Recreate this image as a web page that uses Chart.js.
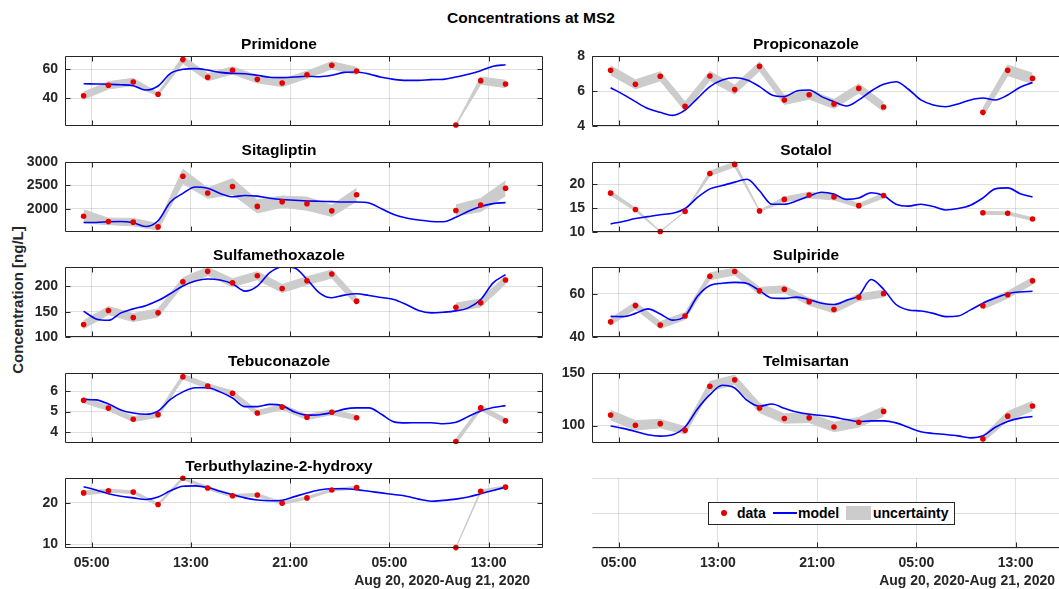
<!DOCTYPE html>
<html lang="en">
<head>
  <meta charset="UTF-8">
  <title>Concentrations at MS2</title>
  <script src="https://cdn.jsdelivr.net/npm/chart.js"></script>
  <style>
    html, body {
      margin: 0;
      padding: 0;
      background: #fff;
    }
    body {
      position: relative;
      width: 1059px;
      height: 589px;
      overflow: hidden;
      font-family: 'Liberation Sans', Arial, sans-serif;
      color: #262626;
    }
    canvas { position: absolute; }
    .txt { position: absolute; font-weight: bold; white-space: nowrap; }
    #title { left: 331px; top: 8px; width: 400px; text-align: center; font-size: 15.5px; line-height: 20px; color: #000; }
    #ylabel { left: 17px; top: 300px; font-size: 15px; color: #262626; transform: translate(-50%, -50%) rotate(-90deg); }
    .datelbl { width: 220px; text-align: right; top: 572px; font-size: 14px; line-height: 16px; }
    #legend {
      position: absolute; left: 708px; top: 502px; width: 245px; height: 21px;
      border: 1px solid #262626; background: #fff; font-size: 14px; font-weight: bold; color: #000;
    }
    #legend span { position: absolute; line-height: 21px; top: 0; }
  </style>
</head>
<body>
  <div id="title" class="txt">Concentrations at MS2</div>
  <div id="ylabel" class="txt">Concentration [ng/L]</div>

  <script>
    // sample times in hours after Aug 20, 2020 00:00
    const dataHours = [4.36, 6.36, 8.36, 10.36, 12.36, 14.36, 16.36, 18.36, 20.36, 22.36, 24.36, 26.36, 34.36, 36.36, 38.36];
    const modelHours = [4.36, 5.36, 6.36, 7.36, 8.36, 9.36, 10.36, 11.36, 12.36, 13.36, 14.36, 15.36, 16.36, 17.36, 18.36,
      19.36, 20.36, 21.36, 22.36, 23.36, 24.36, 25.36, 26.36, 27.36, 28.36, 29.36, 30.36, 31.36, 32.36, 33.36,
      34.36, 35.36, 36.36, 37.36, 38.36];
    const hourTicks = [5, 13, 21, 29, 37];

    const primidoneData = [41.8, 49.0, 51.3, 42.8, 66.7, 54.5, 59.3, 53.1, 50.6, 56.3, 62.8, 58.9, 21.6, 52.2, 49.9];
    const primidoneUnc = [2.5, 2.5, 2.5, 1.0, 2.5, 2.5, 2.5, 2.5, 2.5, 2.5, 2.5, 2.5, 0.4, 2.5, 2.5];
    const primidoneModel = [50.1, 49.9, 49.7, 49.4, 48.7, 45.7, 48.5, 57.2, 60.0, 60.5, 59.5, 57.9, 57.2, 57.0, 55.9, 54.5, 54.3, 54.7,
      55.2, 54.9, 55.9, 57.9, 58.2, 56.8, 54.5, 53.1, 52.4, 52.4, 52.9, 53.1, 54.7, 56.6, 59.1, 62.1, 63.2];

    const propiconazoleData = [7.18, 6.38, 6.84, 5.12, 6.86, 6.08, 7.41, 5.49, 5.79, 5.26, 6.15, 5.09, 4.78, 7.18, 6.72];
    const propiconazoleUnc = [0.26, 0.26, 0.26, 0.26, 0.26, 0.26, 0.26, 0.26, 0.26, 0.26, 0.26, 0.26, 0.24, 0.3, 0.3];
    const propiconazoleModel = [6.19, 5.81, 5.39, 5.0, 4.78, 4.61, 4.91, 5.58, 6.25, 6.63, 6.76, 6.63, 6.25, 5.77, 5.68, 6.0, 6.06, 5.68,
      5.39, 5.14, 5.49, 6.0, 6.38, 6.53, 6.1, 5.49, 5.2, 5.1, 5.26, 5.49, 5.6, 5.49, 5.77, 6.21, 6.48];

    const sitagliptinData = [1839, 1730, 1715, 1613, 2694, 2336, 2475, 2051, 2153, 2110, 1956, 2299, 1963, 2080, 2438];
    const sitagliptinUnc = [140, 70, 80, 70, 150, 110, 170, 140, 120, 140, 120, 140, 120, 140, 160];
    const sitagliptinModel = [1708, 1708, 1723, 1730, 1701, 1620, 1745, 2146, 2329, 2467, 2438, 2329, 2256, 2285, 2270, 2226, 2197, 2183,
      2168, 2161, 2153, 2146, 2146, 2124, 2000, 1876, 1803, 1759, 1730, 1723, 1818, 1949, 2051, 2110, 2131];

    const sotalolData = [18.1, 14.7, 10.1, 14.3, 22.2, 24.1, 14.4, 16.8, 17.7, 17.3, 15.5, 17.6, 14.0, 13.9, 12.7];
    const sotalolUnc = [0.45, 0.3, 0.05, 0.05, 0.5, 0.5, 0.1, 0.5, 0.6, 0.6, 0.4, 0.5, 0.3, 0.3, 0.3];
    const sotalolModel = [11.7, 12.2, 12.8, 13.2, 13.6, 13.9, 14.9, 17.2, 19.0, 19.7, 20.4, 21.0, 18.6, 15.8, 15.8, 16.5, 17.5, 18.3,
      17.9, 16.8, 17.1, 18.2, 17.6, 15.8, 15.4, 15.8, 15.3, 14.6, 14.9, 15.6, 17.1, 19.0, 19.2, 18.0, 17.3];

    const sulfamethoxazoleData = [124.5, 152.3, 138.4, 147.7, 209.3, 229.8, 207.3, 221.2, 196.0, 211.3, 224.5, 170.9, 158.9, 167.5, 212.6];
    const sulfamethoxazoleUnc = [8, 8, 8, 8, 8, 8, 8, 8, 8, 8, 8, 8, 8, 8, 8];
    const sulfamethoxazoleModel = [151.0, 135.8, 133.0, 147.7, 155.6, 162.0, 172.0, 186.0, 200.7, 210.6, 214.6, 212.6, 205.3, 190.7, 200.7,
      227.2, 238.4, 236.4, 214.0, 187.4, 177.5, 182.8, 185.4, 182.1, 178.1, 174.2, 164.2, 152.3, 147.7, 149.0, 151.7, 157.6, 174.2, 207.0, 223.2];

    const sulpirideData = [47.0, 54.5, 45.5, 49.7, 68.0, 70.2, 61.3, 62.0, 56.3, 52.7, 58.3, 60.0, 54.4, 59.5, 65.9];
    const sulpirideUnc = [1.6, 1.6, 1.6, 1.6, 1.6, 1.6, 1.6, 1.6, 1.6, 1.6, 1.6, 1.6, 1.6, 1.6, 1.6];
    const sulpirideModel = [49.5, 49.4, 50.9, 53.0, 50.6, 47.8, 49.7, 58.8, 63.8, 64.8, 65.2, 64.7, 61.4, 58.0, 57.8, 58.4, 57.2, 55.6,
      55.0, 56.9, 59.1, 66.5, 62.0, 55.0, 52.5, 52.0, 50.9, 49.4, 49.7, 52.5, 55.6, 58.0, 60.0, 60.8, 61.1];

    const tebuconazoleData = [5.55, 5.17, 4.63, 4.85, 6.70, 6.24, 5.89, 4.93, 5.22, 4.73, 4.97, 4.70, 3.54, 5.18, 4.55];
    const tebuconazoleUnc = [0.12, 0.12, 0.12, 0.12, 0.12, 0.12, 0.12, 0.12, 0.12, 0.12, 0.12, 0.12, 0.12, 0.12, 0.12];
    const tebuconazoleModel = [5.59, 5.57, 5.37, 5.08, 4.93, 4.87, 5.03, 5.59, 5.96, 6.16, 6.16, 5.96, 5.66, 5.24, 5.24, 5.35, 5.29, 4.98,
      4.83, 4.85, 4.95, 5.12, 5.18, 5.18, 4.87, 4.50, 4.45, 4.46, 4.46, 4.41, 4.48, 4.76, 5.03, 5.20, 5.29];

    const telmisartanData = [110.0, 100.3, 101.9, 95.5, 137.4, 143.5, 116.8, 106.8, 107.4, 98.7, 103.2, 113.5, 87.4, 109.0, 118.7];
    const telmisartanUnc = [4.5, 4.5, 4, 3.5, 4.5, 4.5, 4.5, 4.5, 4.5, 4.5, 4.5, 4.5, 3, 4.5, 4.5];
    const telmisartanModel = [99.7, 97.4, 94.5, 91.3, 90.0, 91.3, 98.7, 115.8, 129.4, 138.4, 135.8, 123.9, 118.4, 120.6, 116.5, 113.0, 110.8, 109.7,
      108.1, 105.8, 103.9, 104.5, 104.5, 102.6, 98.4, 94.2, 92.6, 91.6, 90.3, 88.4, 90.3, 98.4, 103.9, 107.1, 108.7];

    const terbuthylazineData = [22.4, 22.9, 22.6, 19.6, 25.95, 23.6, 21.7, 21.9, 19.9, 21.2, 23.1, 23.7, 9.2, 22.8, 23.8];
    const terbuthylazineUnc = [0.5, 0.35, 0.35, 0.3, 0.3, 0.35, 0.35, 0.35, 0.3, 0.3, 0.3, 0.3, 0.05, 0.3, 0.3];
    const terbuthylazineModel = [23.9, 23.1, 22.2, 21.6, 21.2, 20.8, 21.4, 22.9, 24.0, 24.1, 23.7, 22.8, 22.0, 21.2, 20.7, 20.5, 20.6, 21.5,
      22.4, 23.1, 23.4, 23.4, 23.2, 22.8, 22.4, 22.0, 21.6, 20.9, 20.4, 20.6, 20.9, 21.4, 22.2, 23.0, 23.8];

    const panels = [
      { name: 'Primidone', row: 0, col: 0, data: primidoneData, unc: primidoneUnc, model: primidoneModel, yMin: 20.9, yMax: 69.2, yTicks: [40, 60] },
      { name: 'Propiconazole', row: 0, col: 1, data: propiconazoleData, unc: propiconazoleUnc, model: propiconazoleModel, yMin: 4, yMax: 8, yTicks: [4, 6, 8] },
      { name: 'Sitagliptin', row: 1, col: 0, data: sitagliptinData, unc: sitagliptinUnc, model: sitagliptinModel, yMin: 1504, yMax: 3000, yTicks: [2000, 2500, 3000] },
      { name: 'Sotalol', row: 1, col: 1, data: sotalolData, unc: sotalolUnc, model: sotalolModel, yMin: 10, yMax: 24.6, yTicks: [10, 15, 20] },
      { name: 'Sulfamethoxazole', row: 2, col: 0, data: sulfamethoxazoleData, unc: sulfamethoxazoleUnc, model: sulfamethoxazoleModel, yMin: 100, yMax: 238.4, yTicks: [100, 150, 200] },
      { name: 'Sulpiride', row: 2, col: 1, data: sulpirideData, unc: sulpirideUnc, model: sulpirideModel, yMin: 40, yMax: 72.3, yTicks: [40, 60] },
      { name: 'Tebuconazole', row: 3, col: 0, data: tebuconazoleData, unc: tebuconazoleUnc, model: tebuconazoleModel, yMin: 3.47, yMax: 6.88, yTicks: [4, 5, 6] },
      { name: 'Telmisartan', row: 3, col: 1, data: telmisartanData, unc: telmisartanUnc, model: telmisartanModel, yMin: 83.5, yMax: 150, yTicks: [100, 150] },
      { name: 'Terbuthylazine-2-hydroxy', row: 4, col: 0, data: terbuthylazineData, unc: terbuthylazineUnc, model: terbuthylazineModel, yMin: 9.1, yMax: 26.0, yTicks: [10, 20] },
      { name: '', row: 4, col: 1, yMin: 0, yMax: 1, yTicks: [0, 0.5, 1], empty: true }
    ];

    Chart.defaults.font.family = "'Liberation Sans', Arial, sans-serif";
    Chart.defaults.color = '#262626';

    const xMin = 2.86, xMax = 41.38;
    const rowTops = [56, 162, 267, 373, 478];
    const plotH = 70, yAxisW = 50, titleH = 24;
    const gridColor = 'rgba(38,38,38,0.15)';
    const tickFont = { size: 14, weight: 'bold' };

    function hourLabel(v) {
      const h = Math.round(((v % 24) + 24) % 24);
      return String(h).padStart(2, '0') + ':00';
    }

    function pts(xs, ys) {
      return xs.map((x, i) => ({ x: x, y: ys[i] }));
    }

    // value +/- uncertainty, broken where the sampling has a hole
    function bandPts(xs, ys, us, sign) {
      const out = [];
      xs.forEach((x, i) => {
        if (i > 0 && x - xs[i - 1] > 3) out.push({ x: (x + xs[i - 1]) / 2, y: null });
        out.push({ x: x, y: ys[i] + sign * us[i] });
      });
      return out;
    }

    function boxPlugin(full) {
      return {
        id: 'box',
        afterDraw(chart) {
          const ctx = chart.ctx, a = chart.chartArea;
          const xs = chart.scales.x, ys = chart.scales.y;
          const l = Math.round(a.left) + 0.5, r = Math.round(a.right) - 0.5;
          const t = Math.round(a.top) + 0.5, b = Math.round(a.bottom) - 0.5;
          ctx.save();
          ctx.strokeStyle = '#262626';
          ctx.lineWidth = 1;
          ctx.beginPath();
          if (full) {
            ctx.rect(l, t, r - l, b - t);
          } else {
            ctx.moveTo(l, b);
            ctx.lineTo(r, b);
          }
          hourTicks.forEach(v => {
            const px = Math.round(xs.getPixelForValue(v)) + 0.5;
            ctx.moveTo(px, b);
            ctx.lineTo(px, b - 5);
            if (full) {
              ctx.moveTo(px, t);
              ctx.lineTo(px, t + 5);
            }
          });
          if (full) {
            ys.ticks.forEach(tk => {
              const py = Math.round(ys.getPixelForValue(tk.value)) + 0.5;
              ctx.moveTo(l, py);
              ctx.lineTo(l + 5, py);
              ctx.moveTo(r, py);
              ctx.lineTo(r - 5, py);
            });
          }
          ctx.stroke();
          ctx.restore();
        }
      };
    }

    panels.forEach(p => {
      const bottomRow = p.row === 4;
      const bottomSpace = bottomRow ? 42 : 16;
      const w = yAxisW + 478 + 4;
      const h = titleH + plotH + bottomSpace;
      const cv = document.createElement('canvas');
      cv.width = w;
      cv.height = h;
      cv.style.left = (p.col ? 542 : 15) + 'px';
      cv.style.top = (rowTops[p.row] - titleH) + 'px';
      cv.style.width = w + 'px';
      cv.style.height = h + 'px';
      document.body.appendChild(cv);

      const datasets = [];
      if (!p.empty) {
        datasets.push({
          label: 'data',
          data: pts(dataHours, p.data),
          showLine: false,
          pointRadius: 2.8,
          pointBackgroundColor: '#e50000',
          pointBorderWidth: 0,
          clip: 8
        });
        datasets.push({
          label: 'model',
          data: pts(modelHours, p.model),
          borderColor: '#0000ff',
          borderWidth: 1.6,
          pointRadius: 0,
          cubicInterpolationMode: 'monotone',
          fill: false
        });
        datasets.push({
          label: 'uncertainty',
          data: bandPts(dataHours, p.data, p.unc, 1),
          borderColor: '#cccccc',
          backgroundColor: '#cccccc',
          borderWidth: 1,
          pointRadius: 0,
          tension: 0,
          spanGaps: false,
          fill: '+1'
        });
        datasets.push({
          label: 'uncertainty low',
          data: bandPts(dataHours, p.data, p.unc, -1),
          borderColor: '#cccccc',
          borderWidth: 1,
          pointRadius: 0,
          tension: 0,
          spanGaps: false,
          fill: false
        });
      }

      new Chart(cv.getContext('2d'), {
        type: 'line',
        data: { datasets: datasets },
        options: {
          responsive: false,
          animation: false,
          devicePixelRatio: 1,
          layout: { padding: { left: 0, right: 4, top: p.empty ? titleH : 0, bottom: bottomRow ? 0 : bottomSpace } },
          plugins: {
            legend: { display: false },
            tooltip: { enabled: false },
            title: {
              display: !p.empty,
              text: p.name,
              color: '#000',
              font: { size: 15.5, weight: 'bold' },
              padding: { top: 3.7, bottom: 1.7 }
            }
          },
          scales: {
            x: {
              type: 'linear',
              min: xMin,
              max: xMax,
              afterBuildTicks: s => { s.ticks = hourTicks.map(v => ({ value: v })); },
              afterFit: s => { s.height = bottomRow ? 42 : 0; },
              ticks: {
                display: bottomRow,
                padding: 7,
                autoSkip: false,
                maxRotation: 0,
                color: '#262626',
                font: tickFont,
                callback: v => hourLabel(v)
              },
              grid: { color: gridColor, drawTicks: false },
              border: { display: false }
            },
            y: {
              type: 'linear',
              min: p.yMin,
              max: p.yMax,
              afterBuildTicks: s => { s.ticks = p.yTicks.map(v => ({ value: v })); },
              afterFit: s => { s.width = yAxisW; },
              ticks: {
                display: !p.empty,
                padding: 7,
                color: '#262626',
                font: tickFont,
                callback: v => String(v)
              },
              grid: { color: gridColor, drawTicks: false },
              border: { display: false }
            }
          }
        },
        plugins: [boxPlugin(!p.empty)]
      });
    });
  </script>

  <div class="txt datelbl" style="left:310px;">Aug 20, 2020-Aug 21, 2020</div>
  <div class="txt datelbl" style="left:835px;">Aug 20, 2020-Aug 21, 2020</div>

  <div id="legend">
    <span style="left:12px; top:7px; width:6px; height:6px; border-radius:3px; background:#e50000;"></span>
    <span style="left:28px;">data</span>
    <span style="left:64px; top:9px; width:24px; height:2px; background:#0000ff;"></span>
    <span style="left:89px;">model</span>
    <span style="left:137px; top:3px; width:25px; height:14px; background:#cccccc;"></span>
    <span style="left:164px;">uncertainty</span>
  </div>
</body>
</html>
